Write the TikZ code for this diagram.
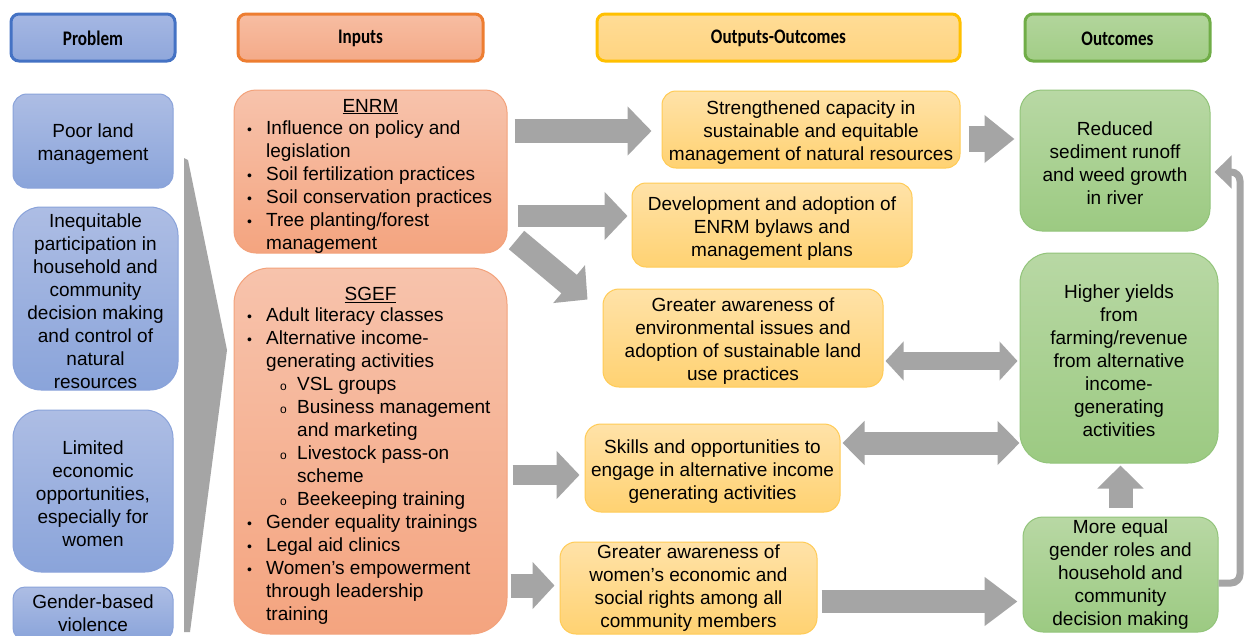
\documentclass[tikz,border=0pt]{standalone}
\usepackage{fontspec}
\usepackage{graphicx}
\setmainfont{Liberation Sans}
\newfontfamily\hdrfont{Carlito}
\usetikzlibrary{arrows.meta,calc}
\definecolor{arrgray}{HTML}{A5A5A5}
\definecolor{hblueD}{HTML}{4472C4}
\definecolor{hblueT}{HTML}{A5B7E3}
\definecolor{hblueB}{HTML}{8FA7DB}
\definecolor{horD}{HTML}{ED7D31}
\definecolor{horT}{HTML}{F7BDA2}
\definecolor{horB}{HTML}{F4AA88}
\definecolor{hyeD}{HTML}{FFC000}
\definecolor{hyeT}{HTML}{FFDC96}
\definecolor{hyeB}{HTML}{FFD480}
\definecolor{hgrD}{HTML}{70AD47}
\definecolor{hgrT}{HTML}{B2D59C}
\definecolor{hgrB}{HTML}{A2CD86}
\definecolor{pbT}{HTML}{ADBDE4}
\definecolor{pbB}{HTML}{8AA4DA}
\definecolor{pbD}{HTML}{8AA3DA}
\definecolor{orT}{HTML}{F7C3AC}
\definecolor{orB}{HTML}{F4A47F}
\definecolor{orD}{HTML}{F3A27B}
\definecolor{yeT}{HTML}{FFE2A8}
\definecolor{yeB}{HTML}{FFD272}
\definecolor{yeD}{HTML}{FFCB55}
\definecolor{grT}{HTML}{B8D8A4}
\definecolor{grB}{HTML}{9CCA82}
\definecolor{grD}{HTML}{92C47A}
\newcommand\lbul{\makebox[19pt][l]{\fontsize{14}{14}\selectfont\textbullet}}
\newcommand\lind{\hspace*{19pt}}
\newcommand\lsub{\hspace*{33pt}\makebox[17pt][l]{\fontsize{12}{12}\selectfont o}}
\newcommand\lsind{\hspace*{50pt}}
\newcommand\tup{\rule{0pt}{20pt}}
\newcommand\hdrtext[1]{\rule{0pt}{16pt}\scalebox{0.95}[1.15]{#1}}
\begin{document}
\begin{tikzpicture}[x=1pt,y=-1pt,
  every node/.style={inner sep=0pt},
  txt/.style={font=\fontsize{19}{23}\selectfont, align=center},
  listtxt/.style={font=\fontsize{19}{23}\selectfont, align=left},
  hdr/.style={draw, line width=3pt, rounded corners=8pt, minimum height=47pt,
    font=\hdrfont\bfseries\fontsize{18}{22}\selectfont},
  pbox/.style={txt, draw=pbD, line width=1pt, top color=pbT, bottom color=pbB},
  obox/.style={draw=orD, line width=1pt, top color=orT, bottom color=orB},
  ybox/.style={txt, draw=yeD, line width=1pt, top color=yeT, bottom color=yeB},
  gbox/.style={txt, draw=grD, line width=1pt, top color=grT, bottom color=grB},
  barrow/.style n args={3}{draw=arrgray, line width=#1pt, -{Triangle[length=#3pt,width=#2pt]}},
  darrow/.style n args={3}{draw=arrgray, line width=#1pt, {Triangle[length=#3pt,width=#2pt]}-{Triangle[length=#3pt,width=#2pt]}}
]
\useasboundingbox (0,0) rectangle (1248,635);
\clip (0,0) rectangle (1248,635);
\fill[white] (0,0) rectangle (1248,635);

% headers
\node[hdr, draw=hblueD, top color=hblueT, bottom color=hblueB, minimum width=164pt] (hp) at (93,37.5) {\hdrtext{Problem}};
\node[hdr, draw=horD, top color=horT, bottom color=horB, minimum width=245pt] (hi) at (360.5,37.5) {\hdrtext{Inputs}};
\node[hdr, draw=hyeD, top color=hyeT, bottom color=hyeB, minimum width=363pt] (ho) at (778.5,37.5) {\hdrtext{Outputs-Outcomes}};
\node[hdr, draw=hgrD, top color=hgrT, bottom color=hgrB, minimum width=185pt] (hc) at (1117.5,37.5) {\hdrtext{Outcomes}};

% problem column
\node[pbox, rounded corners=14pt, minimum width=160pt, minimum height=94pt] (p1) at (93,141) {\tup Poor land\\management};
\node[pbox, rounded corners=28pt, minimum width=165pt, minimum height=183pt] (p2) at (95.5,298.5) {\tup Inequitable\\participation in\\household and\\community\\decision making\\and control of\\natural\\resources};
\node[pbox, rounded corners=28pt, minimum width=160pt, minimum height=162pt] (p3) at (93,491) {\tup Limited\\economic\\opportunities,\\especially for\\women};
\node[pbox, rounded corners=12pt, minimum width=160pt, minimum height=53pt] (p4) at (93,613.5) {Gender-based\\violence};

% big chevron
\fill[arrgray] (184,158) -- (188,160) -- (227,350) -- (190,632) -- (184,632) -- cycle;

% inputs
\node[obox, rounded corners=22pt, minimum width=273pt, minimum height=163pt] (enrm) at (370.5,171.5) {};
\node[txt] (enrmt) at (370.5,103) {\tup\underline{ENRM}};
\node[listtxt, anchor=north west] (enrml) at (247,118.4) {\strut\lbul Influence on policy and\\
\lind legislation\\
\lbul Soil fertilization practices\\
\lbul Soil conservation practices\\
\lbul Tree planting/forest\\
\lind management};

\node[obox, rounded corners=36pt, minimum width=273pt, minimum height=366pt] (sgef) at (370.5,451) {};
\node[txt] (sgeft) at (370.5,292) {\tup\underline{SGEF}};
\node[listtxt, anchor=north west] (sgefl) at (247,305.4) {\strut\lbul Adult literacy classes\\
\lbul Alternative income-\\
\lind generating activities\\
\lsub VSL groups\\
\lsub Business management\\
\lsind and marketing\\
\lsub Livestock pass-on\\
\lsind scheme\\
\lsub Beekeeping training\\
\lbul Gender equality trainings\\
\lbul Legal aid clinics\\
\lbul Women's empowerment\\
\lind through leadership\\
\lind training};

% outputs
\node[ybox, rounded corners=14pt, minimum width=298pt, minimum height=77pt] (o1) at (811,129.5) {\tup Strengthened capacity in\\sustainable and equitable\\management of natural resources};
\node[ybox, rounded corners=14pt, minimum width=280pt, minimum height=84pt] (o2) at (772,225) {\tup Development and adoption of\\ENRM bylaws and\\management plans};
\node[ybox, rounded corners=16pt, minimum width=280pt, minimum height=98pt] (o3) at (743,338) {\tup Greater awareness of\\environmental issues and\\adoption of sustainable land\\use practices};
\node[ybox, rounded corners=16pt, minimum width=255pt, minimum height=88pt] (o4) at (712.5,468) {\tup Skills and opportunities to\\engage in alternative income\\generating activities};
\node[ybox, rounded corners=16pt, minimum width=257pt, minimum height=92pt] (o5) at (688.5,588) {Greater awareness of\\women's economic and\\social rights among all\\community members};

% outcomes
\node[gbox, rounded corners=22pt, minimum width=190pt, minimum height=141pt] (c1) at (1115,160.5) {\tup Reduced\\sediment runoff\\and weed growth\\in river};
\node[gbox, rounded corners=30pt, minimum width=198pt, minimum height=210pt] (c2) at (1119,358) {\tup Higher yields\\from\\farming/revenue\\from alternative\\income-\\generating\\activities};
\node[gbox, rounded corners=20pt, minimum width=195pt, minimum height=115pt] (c3) at (1120.5,574.5) {More equal\\gender roles and\\household and\\community\\decision making};

% block arrows
\draw[barrow={24}{48}{24}] ($(enrm.east |- o1.west)+(7,1.5)$) -- ($(o1.west)+(-10,1.5)$);
\draw[barrow={22}{47}{23}] ($(enrm.east |- o2.west)+(10,-9)$) -- ($(o2.west)+(-4,-9)$);
\draw[barrow={24}{48}{24}] ($(enrm.east)+(9,68.5)$) -- ($(o3.north west)+(-15,11)$);
\draw[darrow={18}{38}{18}] ($(o3.east)+(2,23)$) -- ($(c2.west)+(-2,3)$);
\draw[darrow={23}{43}{22}] ($(o4.east)+(2,-25)$) -- ($(c2.west |- o4.east)+(0,-25)$);
\draw[barrow={20}{47}{23}] ($(sgef.east |- o4.west)+(5,7)$) -- ($(o4.west)+(-5,7)$);
\draw[barrow={24}{46}{22}] ($(sgef.east |- o5.west)+(3,-2.5)$) -- ($(o5.west)+(-5,-2.5)$);
\draw[barrow={23}{47}{33}] ($(o5.east)+(4,13.5)$) -- ($(c3.west |- o5.east)+(-5,13.5)$);
\draw[barrow={26}{46}{30}] ($(o1.east)+(8,9.5)$) -- ($(c1.west |- o1.east)+(-5,9.5)$);
\draw[barrow={24}{45}{23}] ($(c3.north)+(0,-9)$) -- ($(c3.north |- c2.south)+(0,2)$);

% feedback arrow
\coordinate (fbB) at (1240,583);
\coordinate (fbT) at (1240,172);
\draw[draw=arrgray, line width=7pt, rounded corners=9pt, -{Triangle[length=17pt,width=32pt]}]
  (c3.east |- fbB) -- (fbB) -- (fbT) -- ($(c1.east |- fbT)+(4,0)$);
\end{tikzpicture}
\end{document}
